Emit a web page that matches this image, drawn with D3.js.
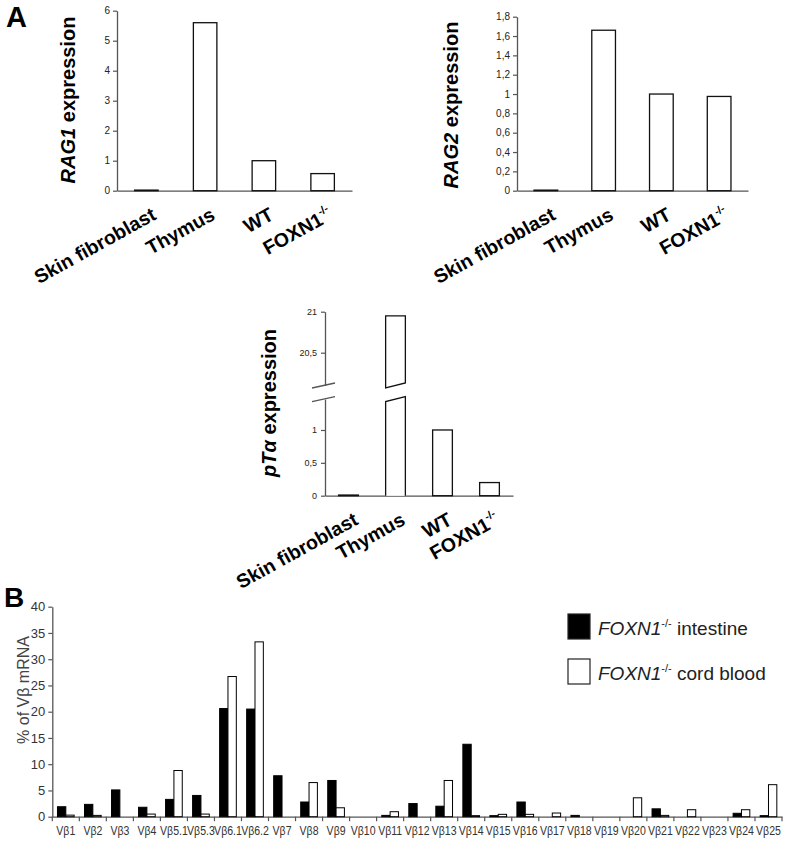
<!DOCTYPE html>
<html><head><meta charset="utf-8">
<script src="https://cdn.jsdelivr.net/npm/d3@7"></script>
<style>body{margin:0;background:#fff} svg{display:block} text{font-family:"Liberation Sans",Arial,sans-serif}</style>
</head><body><svg id="c" width="788" height="847"></svg>
<script>
// ---------- data ----------
const samples = ["Skin fibroblast", "Thymus", "WT", "FOXN1"];
const rag1 = [0.02, 5.6, 1.0, 0.57];
const rag2 = [0.006, 1.66, 1.0, 0.975];
const pta = [0.01, 20.95, 1.0, 0.2];
const rag1Ticks = [0, 1, 2, 3, 4, 5, 6];
const rag2Ticks = [0, 0.2, 0.4, 0.6, 0.8, 1, 1.2, 1.4, 1.6, 1.8];
const ptaLowTicks = [0, 0.5, 1];
const ptaHighTicks = [20.5, 21];

const vbGenes = ["Vβ1","Vβ2","Vβ3","Vβ4","Vβ5.1","Vβ5.3","Vβ6.1","Vβ6.2","Vβ7","Vβ8","Vβ9","Vβ10","Vβ11","Vβ12","Vβ13","Vβ14","Vβ15","Vβ16","Vβ17","Vβ18","Vβ19","Vβ20","Vβ21","Vβ22","Vβ23","Vβ24","Vβ25"];
const intestine = [1.9, 2.35, 5.1, 1.8, 3.3, 4.05, 20.6, 20.5, 7.8, 2.8, 6.9, 0, 0.25, 2.5, 2.0, 13.8, 0.2, 2.8, 0, 0.25, 0, 0, 1.5, 0, 0, 0.65, 0.2];
const cordBlood = [0.3, 0.25, 0, 0.5, 8.8, 0.5, 26.7, 33.3, 0, 6.5, 1.7, 0, 0.95, 0, 6.9, 0.2, 0.45, 0.45, 0.7, 0, 0, 3.6, 0.25, 1.33, 0, 1.33, 6.1];
const vbTicks = [0, 5, 10, 15, 20, 25, 30, 35, 40];
const seriesNames = ["intestine", "cord blood"];

const svg = d3.select("#c");
const comma = d => String(d).replace(".", ",");

function styleAxis(g, fs) {
  g.select(".domain").attr("stroke", "#555").attr("stroke-width", 1.3);
  g.selectAll(".tick line").attr("stroke", "#555").attr("stroke-width", 1.2);
  g.selectAll(".tick text").attr("fill", "#222").style("font-size", fs + "px")
    .style("font-family", '"Liberation Sans",Arial,sans-serif');
}

function xLabels(g, x, yb) {
  samples.forEach(d => {
    const ax = x(d) + x.bandwidth() / 2 + 11, ay = yb + 28;
    const s = g.append("text")
      .attr("x", ax).attr("y", ay)
      .attr("transform", `rotate(-29 ${ax} ${ay})`)
      .attr("text-anchor", "end")
      .attr("font-size", 19.5).attr("font-weight", "bold").attr("fill", "#000");
    if (d === "FOXN1") {
      s.append("tspan").text("FOXN1");
      s.append("tspan").text("-/-").attr("font-size", 11).attr("dy", -9);
    } else s.text(d);
  });
}

function yTitle(italicPart, rest, bx, cy) {
  const t = svg.append("text").attr("transform", `translate(${bx},${cy}) rotate(-90)`)
    .attr("text-anchor", "middle").attr("font-size", 20).attr("font-weight", "bold").attr("fill", "#000");
  t.append("tspan").text(italicPart).attr("font-style", "italic");
  t.append("tspan").text(rest);
}

function simpleChart(vals, ticks, cfg) {
  const g = svg.append("g");
  const x = d3.scaleBand().domain(samples).range([cfg.x0, cfg.x1]).paddingInner(cfg.pi).paddingOuter(cfg.pi / 2);
  const y = d3.scaleLinear().domain([0, ticks[ticks.length - 1]]).range([cfg.yb, cfg.yt]);
  const ya = g.append("g").attr("transform", `translate(${cfg.x0},0)`)
    .call(d3.axisLeft(y).tickValues(ticks).tickSize(4).tickSizeOuter(0).tickPadding(3).tickFormat(comma));
  styleAxis(ya, 10);
  const xa = g.append("g").attr("transform", `translate(0,${cfg.yb})`)
    .call(d3.axisBottom(x).tickSize(0).tickSizeOuter(0).tickFormat(""));
  styleAxis(xa, 10);
  g.selectAll("rect.b").data(samples).join("rect").attr("class", "b")
    .attr("x", d => x(d)).attr("width", x.bandwidth())
    .attr("y", (d, i) => y(vals[i])).attr("height", (d, i) => cfg.yb - y(vals[i]))
    .attr("fill", "#fff").attr("stroke", "#111").attr("stroke-width", 1.3);
  xLabels(g, x, cfg.yb);
}

// ---------- Panel A ----------
svg.append("text").attr("x", 6).attr("y", 27).text("A").attr("font-size", 29).attr("font-weight", "bold");

simpleChart(rag1, rag1Ticks, { x0: 117, x1: 352, yb: 190.7, yt: 10.7, pi: 0.6 });
yTitle("RAG1", " expression", 74.5, 100);

simpleChart(rag2, rag2Ticks, { x0: 517, x1: 748, yb: 190.7, yt: 16.7, pi: 0.59 });
yTitle("RAG2", " expression", 458, 105);

// pT alpha with broken axis
(function () {
  const g = svg.append("g");
  const x0 = 325, x1 = 513;
  const x = d3.scaleBand().domain(samples).range([x0, x1]).paddingInner(0.58).paddingOuter(0.29);
  const yl = d3.scaleLinear().domain([0, 1.47]).range([495.7, 399.1]);
  const yu = d3.scaleLinear().domain([20.1, 21]).range([385.5, 311.7]);
  const la = g.append("g").attr("transform", `translate(${x0},0)`)
    .call(d3.axisLeft(yl).tickValues(ptaLowTicks).tickSize(4).tickSizeOuter(0).tickPadding(4).tickFormat(comma));
  styleAxis(la, 9);
  const ua = g.append("g").attr("transform", `translate(${x0},0)`)
    .call(d3.axisLeft(yu).tickValues(ptaHighTicks).tickSize(4).tickSizeOuter(0).tickPadding(4).tickFormat(comma));
  styleAxis(ua, 9);
  const xa = g.append("g").attr("transform", `translate(0,${yl(0)})`)
    .call(d3.axisBottom(x).tickSize(0).tickSizeOuter(0).tickFormat(""));
  styleAxis(xa, 9);
  [yu(20.1), yl(1.47)].forEach(yy => {
    g.append("line").attr("x1", x0 - 13).attr("y1", yy + 2.5).attr("x2", x0 + 10).attr("y2", yy - 2.5)
      .attr("stroke", "#555").attr("stroke-width", 1.3);
  });
  samples.forEach((d, i) => {
    const v = pta[i], bx = x(d), bw = x.bandwidth();
    if (v > 1.47) {
      const yt = yu(v), yb1 = yu(20.1), yb2 = yl(1.47), ybase = yl(0);
      g.append("path").attr("d", `M${bx},${yb1 + 2.5}L${bx},${yt}L${bx + bw},${yt}L${bx + bw},${yb1 - 2.5}Z`)
        .attr("fill", "#fff").attr("stroke", "#111").attr("stroke-width", 1.3);
      g.append("path").attr("d", `M${bx},${ybase}L${bx},${yb2 + 2.5}L${bx + bw},${yb2 - 2.5}L${bx + bw},${ybase}`)
        .attr("fill", "#fff").attr("stroke", "#111").attr("stroke-width", 1.3);
    } else {
      g.append("rect").attr("x", bx).attr("width", bw).attr("y", yl(v)).attr("height", yl(0) - yl(v))
        .attr("fill", "#fff").attr("stroke", "#111").attr("stroke-width", 1.3);
    }
  });
  xLabels(g, x, yl(0));
  const t = svg.append("text").attr("transform", `translate(276,403) rotate(-90)`)
    .attr("text-anchor", "middle").attr("font-size", 20).attr("font-weight", "bold");
  t.append("tspan").text("pTα").attr("font-style", "italic");
  t.append("tspan").text(" expression");
})();

// ---------- Panel B ----------
svg.append("text").attr("x", 4).attr("y", 607).text("B").attr("font-size", 28).attr("font-weight", "bold");
(function () {
  const g = svg.append("g");
  const x0 = 52.3, x1 = 782, yb = 816.7, yt = 606.7;
  const x = d3.scaleBand().domain(vbGenes).range([x0, x1]).padding(0);
  const xs = d3.scaleBand().domain(seriesNames).range([0, x.bandwidth()]).paddingInner(0).paddingOuter(0.62);
  const y = d3.scaleLinear().domain([0, 40]).range([yb, yt]);
  const ya = g.append("g").attr("transform", `translate(${x0},0)`)
    .call(d3.axisLeft(y).tickValues(vbTicks).tickSize(4).tickSizeOuter(0).tickPadding(3));
  styleAxis(ya, 13);
  ya.selectAll(".tick text").attr("fill", "#333");
  const xa = g.append("g").attr("transform", `translate(0,${yb})`)
    .call(d3.axisBottom(x).tickSize(0).tickSizeOuter(0).tickPadding(9));
  styleAxis(xa, 13.5);
  xa.selectAll(".tick text").attr("fill", "#333").attr("transform", "scale(0.78,1)");
  const bounds = vbGenes.map(d => x(d)).concat([x1]);
  g.selectAll("line.bt").data(bounds).join("line").attr("class", "bt")
    .attr("x1", d => d).attr("x2", d => d).attr("y1", yb).attr("y2", yb + 4.5)
    .attr("stroke", "#555").attr("stroke-width", 1.2);
  const series = [intestine, cordBlood];
  series.forEach((vals, si) => {
    g.selectAll(`rect.s${si}`).data(vbGenes.filter((d, i) => vals[i] > 0)).join("rect").attr("class", `s${si}`)
      .attr("x", d => x(d) + xs(seriesNames[si])).attr("width", xs.bandwidth())
      .attr("y", d => y(vals[vbGenes.indexOf(d)])).attr("height", d => yb - y(vals[vbGenes.indexOf(d)]))
      .attr("fill", si === 0 ? "#000" : "#fff").attr("stroke", "#000").attr("stroke-width", 1);
  });
  svg.append("text").attr("transform", "translate(29,690) rotate(-90)").attr("text-anchor", "middle")
    .attr("font-size", 16).attr("fill", "#444").text("% of Vβ mRNA");
  const leg = svg.append("g");
  seriesNames.forEach((s, i) => {
    const ly = 614 + i * 45;
    leg.append("rect").attr("x", 568).attr("y", ly).attr("width", 22).attr("height", 25)
      .attr("fill", i === 0 ? "#000" : "#fff").attr("stroke", "#222").attr("stroke-width", 1.2);
    const t = leg.append("text").attr("x", 598).attr("y", ly + 21).attr("font-size", 19).attr("fill", "#222");
    t.append("tspan").text("FOXN1").attr("font-style", "italic");
    t.append("tspan").text("-/-").attr("font-size", 11).attr("dy", -8);
    t.append("tspan").text(" " + s).attr("dy", 8);
  });
})();
</script></body></html>
